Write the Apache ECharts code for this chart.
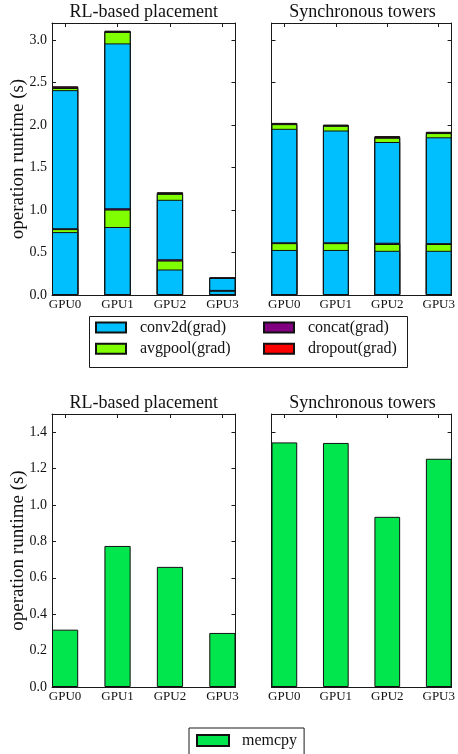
<!DOCTYPE html>
<html>
<head>
<meta charset="utf-8">
<script src="https://cdn.jsdelivr.net/npm/echarts@6/dist/echarts.min.js"></script>
<style>
html,body{margin:0;padding:0;background:#fff;}
#chart{width:458px;height:754px;}
</style>
</head>
<body>
<div id="chart"></div>
<script>
// ---------- data ----------
const gpuLabels = ['GPU0', 'GPU1', 'GPU2', 'GPU3'];
const panelTitles = ['RL-based placement', 'Synchronous towers'];
const yTicksTop = [0.0, 0.5, 1.0, 1.5, 2.0, 2.5, 3.0];
const yTicksBottom = [0.0, 0.2, 0.4, 0.6, 0.8, 1.0, 1.2, 1.4];

// stacked segments, bottom -> top (seconds)
const segmentNames = ['conv2d(grad)', 'avgpool(grad)', 'concat(grad)', 'conv2d(grad)', 'avgpool(grad)', 'concat(grad)', 'dropout(grad)'];

// RL-based placement
const rlConv2dA  = [0.74, 0.80, 0.30, 0.05];
const rlAvgpoolA = [0.035, 0.205, 0.105, 0.0];
const rlConcatA  = [0.01, 0.015, 0.015, 0.01];
const rlConv2dB  = [1.625, 1.94, 0.70, 0.14];
const rlAvgpoolB = [0.025, 0.135, 0.07, 0.0];
const rlConcatB  = [0.015, 0.01, 0.01, 0.005];
const rlDropout  = [0.005, 0.005, 0.01, 0.005];

// Synchronous towers
const syConv2dA  = [0.53, 0.53, 0.52, 0.52];
const syAvgpoolA = [0.08, 0.08, 0.08, 0.08];
const syConcatA  = [0.01, 0.01, 0.015, 0.01];
const syConv2dB  = [1.335, 1.315, 1.185, 1.245];
const syAvgpoolB = [0.055, 0.055, 0.05, 0.05];
const syConcatB  = [0.01, 0.01, 0.01, 0.01];
const syDropout  = [0.005, 0.005, 0.01, 0.005];

// memcpy
const rlMemcpy = [0.315, 0.775, 0.66, 0.297];
const syMemcpy = [1.344, 1.341, 0.935, 1.254];

// ---------- styling ----------
const FONT = "'Liberation Serif', 'DejaVu Serif', serif";
const INK = '#1a1a1a';
const colorOf = {
  'conv2d(grad)': '#00BFFF',
  'avgpool(grad)': '#7FFF00',
  'concat(grad)': '#800080',
  'dropout(grad)': '#FF0000',
  'memcpy': '#00E64C'
};

const grids = [
  {left: 52, top: 23, width: 183.5, height: 272},
  {left: 271.5, top: 23, width: 182, height: 272},
  {left: 52, top: 414, width: 183.5, height: 273},
  {left: 271.5, top: 414, width: 182, height: 273}
];

const xAxis = [];
const yAxis = [];
grids.forEach((g, gi) => {
  const isTop = gi < 2;
  const showY = gi % 2 === 0;
  const ticks = isTop ? yTicksTop : yTicksBottom;
  ['bottom', 'top'].forEach(pos => {
    xAxis.push({
      gridIndex: gi, type: 'value', position: pos,
      min: -0.25, max: 3.25,
      axisLine: {show: true, onZero: false, lineStyle: {color: INK, width: 1}},
      axisTick: {show: true, inside: true, length: 4, customValues: [0, 1, 2, 3], lineStyle: {color: INK}},
      axisLabel: {show: pos === 'bottom', customValues: [0, 1, 2, 3],
        formatter: v => gpuLabels[Math.round(v)],
        fontFamily: FONT, fontSize: 13, color: '#111', margin: 3},
      splitLine: {show: false}
    });
  });
  ['left', 'right'].forEach(pos => {
    const ax = {
      gridIndex: gi, type: 'value', position: pos,
      min: ticks[0], max: isTop ? 3.2 : 1.5, interval: ticks[1] - ticks[0],
      axisLine: {show: true, onZero: false, lineStyle: {color: INK, width: 1}},
      axisTick: {show: true, inside: true, length: 4, lineStyle: {color: INK}},
      axisLabel: {show: showY && pos === 'left', showMaxLabel: false,
        formatter: v => v.toFixed(1),
        fontFamily: FONT, fontSize: 14, color: '#111', margin: 5},
      splitLine: {show: false}
    };
    if (showY && pos === 'left') {
      ax.name = 'operation runtime (s)';
      ax.nameLocation = 'middle';
      ax.nameGap = 24;
      ax.nameMoveOverlap = false;
      ax.nameTextStyle = {fontFamily: FONT, fontSize: 19, color: '#111'};
    }
    yAxis.push(ax);
  });
});

function barStyle(name) {
  return {color: colorOf[name], borderColor: '#111', borderWidth: 1};
}

// overlapping bars drawn from cumulative tops (tallest first so lower segments sit on top)
function stackedSeries(gi, segments) {
  const tops = [];
  let run = gpuLabels.map(() => 0);
  segments.forEach(seg => {
    run = run.map((r, i) => r + seg[i]);
    tops.push(run.slice());
  });
  const out = [];
  for (let k = segments.length - 1; k >= 0; k--) {
    out.push({
      type: 'bar', name: segmentNames[k],
      xAxisIndex: gi * 2, yAxisIndex: gi * 2,
      barWidth: '50%', barGap: '-100%',
      data: tops[k].map((v, i) => [i, v]),
      itemStyle: barStyle(segmentNames[k]),
      emphasis: {disabled: true}
    });
  }
  return out;
}

function simpleSeries(gi, values) {
  return {
    type: 'bar', name: 'memcpy',
    xAxisIndex: gi * 2, yAxisIndex: gi * 2,
    barWidth: '50%',
    data: values.map((v, i) => [i, v]),
    itemStyle: barStyle('memcpy'),
    emphasis: {disabled: true}
  };
}

const series = [].concat(
  stackedSeries(0, [rlConv2dA, rlAvgpoolA, rlConcatA, rlConv2dB, rlAvgpoolB, rlConcatB, rlDropout]),
  stackedSeries(1, [syConv2dA, syAvgpoolA, syConcatA, syConv2dB, syAvgpoolB, syConcatB, syDropout]),
  [simpleSeries(2, rlMemcpy), simpleSeries(3, syMemcpy)]
);

const titleStyle = {fontFamily: FONT, fontSize: 18, fontWeight: 'normal', color: '#111'};
const title = grids.map((g, gi) => ({
  text: panelTitles[gi % 2],
  left: g.left + g.width / 2,
  top: gi < 2 ? 3 : 394,
  textAlign: 'center',
  padding: 0,
  textStyle: titleStyle
}));

const legendText = {fontFamily: FONT, fontSize: 16, color: '#111', lineHeight: 16, padding: [0, 0, 0, 9]};
const legend = [
  {orient: 'vertical', left: 95, top: 319.5, padding: 0, itemGap: 5.3, itemWidth: 30, itemHeight: 10,
   icon: 'rect', data: ['conv2d(grad)', 'avgpool(grad)'], textStyle: legendText, selectedMode: false},
  {orient: 'vertical', left: 263, top: 319.5, padding: 0, itemGap: 5.3, itemWidth: 30, itemHeight: 10,
   icon: 'rect', data: ['concat(grad)', 'dropout(grad)'], textStyle: legendText, selectedMode: false},
  {orient: 'horizontal', left: 189, top: 728, padding: [4.5, 7, 10, 7], itemWidth: 32, itemHeight: 11,
   icon: 'rect', data: ['memcpy'], borderColor: INK, borderWidth: 1,
   textStyle: Object.assign({}, legendText, {padding: [0, 0, 0, 8]}), selectedMode: false}
];

const chart = echarts.init(document.getElementById('chart'), null, {renderer: 'canvas'});
chart.setOption({
  backgroundColor: '#ffffff',
  animation: false,
  title: title,
  grid: grids,
  xAxis: xAxis,
  yAxis: yAxis,
  legend: legend,
  graphic: [{
    type: 'rect', left: 87, top: 314, silent: true,
    shape: {width: 318, height: 51},
    style: {fill: 'none', stroke: INK, lineWidth: 1}
  }],
  series: series
});
</script>
</body>
</html>
